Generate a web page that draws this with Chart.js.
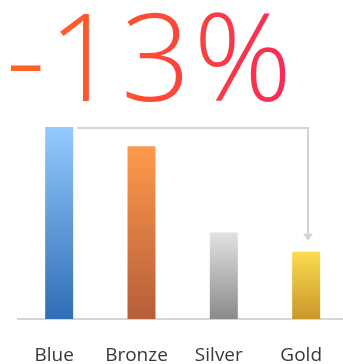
<!DOCTYPE html>
<html>
<head>
<meta charset="utf-8">
<script src="https://cdn.jsdelivr.net/npm/chart.js@4"></script>
<style>
  html, body { margin: 0; padding: 0; background: #fff; }
  .wrap { position: relative; width: 343px; height: 364px; overflow: hidden; }
  .headline {
    position: absolute; left: 6px; top: -7px;
    font-family: "Open Sans", sans-serif; font-weight: 300;
    font-size: 122px; line-height: 1; white-space: nowrap; letter-spacing: 3px;
    background: linear-gradient(90deg, #ff6228 0%, #ff4f30 45%, #f6285a 100%);
    -webkit-background-clip: text; background-clip: text; color: transparent;
    z-index: 2;
  }
  canvas { position: absolute; left: 0; top: 0; }
</style>
</head>
<body>
<div class="wrap">
  <div class="headline">-13%</div>
  <canvas id="tiers" width="352" height="364"></canvas>
</div>
<script>
  // tiers and their bar heights
  var categories = ['Blue', 'Bronze', 'Silver', 'Gold'];
  var values = [100, 90, 45, 35];
  // top / bottom colours of each bar gradient
  var topColors = ['#94caff', '#ff9a4c', '#e2e2e2', '#fadb4e'];
  var bottomColors = ['#2f6db5', '#b55e38', '#8a8a8a', '#c9972a'];

  function barGradient(context) {
    var chart = context.chart;
    var y = chart.scales.y;
    if (!chart.chartArea || !y) return topColors[context.dataIndex];
    var v = values[context.dataIndex];
    var g = chart.ctx.createLinearGradient(0, y.getPixelForValue(v), 0, y.getPixelForValue(0));
    g.addColorStop(0, topColors[context.dataIndex]);
    g.addColorStop(1, bottomColors[context.dataIndex]);
    return g;
  }

  // elbow arrow from the first bar's top down onto the last bar
  var elbowArrow = {
    id: 'elbowArrow',
    afterDatasetsDraw: function (chart) {
      var bars = chart.getDatasetMeta(0).data;
      var first = bars[0];
      var last = bars[bars.length - 1];
      var ctx = chart.ctx;
      var x0 = first.x + first.width / 2 + 4;
      var y0 = Math.round(first.y) + 1;
      var x1 = Math.round(last.x) + 2;
      var tipY = last.y - 11;
      ctx.save();
      ctx.strokeStyle = '#d3d3d3';
      ctx.fillStyle = '#d3d3d3';
      ctx.lineWidth = 2;
      ctx.beginPath();
      ctx.moveTo(x0, y0);
      ctx.lineTo(x1, y0);
      ctx.lineTo(x1, tipY - 6);
      ctx.stroke();
      ctx.beginPath();
      ctx.moveTo(x1 - 5, tipY - 7);
      ctx.lineTo(x1 + 5, tipY - 7);
      ctx.lineTo(x1, tipY);
      ctx.closePath();
      ctx.fill();
      ctx.restore();
    }
  };

  new Chart(document.getElementById('tiers').getContext('2d'), {
    type: 'bar',
    data: {
      labels: categories,
      datasets: [{
        data: values,
        backgroundColor: barGradient,
        borderWidth: 0,
        barPercentage: 0.34,
        categoryPercentage: 1
      }]
    },
    options: {
      responsive: false,
      animation: false,
      events: [],
      layout: { padding: { top: 127, left: 18, right: 0, bottom: 0 } },
      plugins: { legend: { display: false }, tooltip: { enabled: false } },
      scales: {
        x: {
          grid: { display: false, drawTicks: false },
          border: { color: '#d6d6d6', width: 2 },
          ticks: {
            color: '#383838',
            padding: 25,
            labelOffset: -5,
            font: { family: '"Open Sans", sans-serif', size: 19 }
          },
          afterFit: function (scale) { scale.height = 45; }
        },
        y: { display: false, min: 0, max: 100 }
      }
    },
    plugins: [elbowArrow]
  });
</script>
</body>
</html>
